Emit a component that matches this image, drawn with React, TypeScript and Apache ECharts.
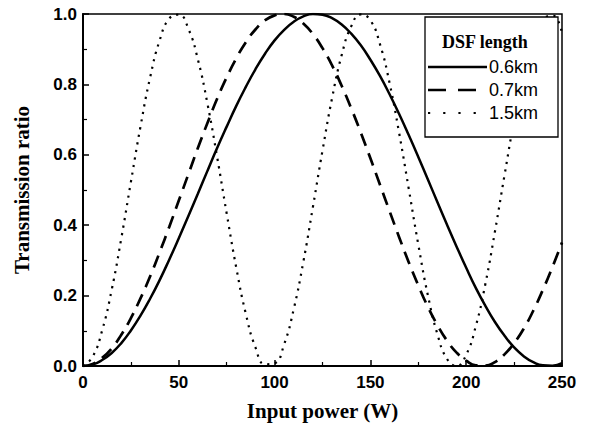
import React, { useEffect, useRef } from "react";
import * as echarts from "echarts";

const power = [
  0, 5, 10, 15, 20, 25, 30, 35, 40, 45, 50, 55, 60, 65, 70, 75, 80, 85, 90, 95,
  100, 105, 110, 115, 120, 125, 130, 135, 140, 145, 150, 155, 160, 165, 170, 175,
  180, 185, 190, 195, 200, 205, 210, 215, 220, 225, 230, 235, 240, 245, 250,
];

const len06 = [
  0, 0.004, 0.017, 0.037, 0.065, 0.101, 0.143, 0.191, 0.244, 0.302, 0.363, 0.426,
  0.49, 0.555, 0.619, 0.68, 0.739, 0.793, 0.843, 0.887, 0.925, 0.955, 0.978, 0.993,
  1.0, 0.998, 0.988, 0.97, 0.944, 0.911, 0.87, 0.824, 0.772, 0.716, 0.656, 0.594,
  0.53, 0.465, 0.401, 0.339, 0.279, 0.222, 0.171, 0.125, 0.086, 0.053, 0.028, 0.011,
  0.002, 0.001, 0.008,
];

const len07 = [
  0, 0.006, 0.023, 0.05, 0.089, 0.136, 0.192, 0.254, 0.323, 0.395, 0.47, 0.545,
  0.62, 0.691, 0.759, 0.82, 0.874, 0.92, 0.956, 0.982, 0.996, 1.0, 0.992, 0.973,
  0.943, 0.903, 0.854, 0.796, 0.732, 0.663, 0.59, 0.515, 0.44, 0.366, 0.295, 0.229,
  0.168, 0.116, 0.072, 0.038, 0.015, 0.002, 0.001, 0.011, 0.033, 0.065, 0.106,
  0.157, 0.216, 0.281, 0.351,
];

const len15 = [
  0, 0.026, 0.101, 0.217, 0.363, 0.523, 0.68, 0.819, 0.925, 0.987, 0.998, 0.958,
  0.87, 0.744, 0.594, 0.433, 0.279, 0.148, 0.053, 0.005, 0.008, 0.062, 0.162, 0.296,
  0.452, 0.612, 0.761, 0.883, 0.965, 0.999, 0.982, 0.914, 0.804, 0.662, 0.504, 0.345,
  0.201, 0.09, 0.02, 0.0, 0.032, 0.113, 0.233, 0.382, 0.542, 0.698, 0.832, 0.93,
  0.983, 0.996, 0.946,
];

const seriesNames = ["0.6km", "0.7km", "1.5km"];
const legendTitle = "DSF length";
const xTitle = "Input power (W)";
const yTitle = "Transmission ratio";

const pair = (ys: number[]) => power.map((p, i) => [p, ys[i]]);

export default function App() {
  const ref = useRef<HTMLDivElement>(null);
  useEffect(() => {
    if (!ref.current) return;
    const chart = echarts.init(ref.current, null, { renderer: "svg" });
    const sans = "Liberation Sans";
    const serif = "Liberation Serif";
    const axisCommon = {
      axisLine: { show: true, onZero: false, lineStyle: { color: "#000", width: 2 } },
      axisTick: { show: true, inside: true, length: 6, lineStyle: { color: "#000", width: 1.5 } },
      minorTick: { show: true, splitNumber: 2, length: 4, lineStyle: { color: "#000", width: 1.2 } },
      splitLine: { show: false },
      nameTextStyle: { fontFamily: serif, fontWeight: "bold", fontSize: 21, color: "#000" },
    };
    const lineStyles = [
      { width: 2.5, dash: null as number[] | null },
      { width: 2.7, dash: [13, 8] },
      { width: 2.2, dash: [2.2, 5.5] },
    ];
    const legendDash = [null, [18, 12], [2.2, 13]];
    const rowY = [67, 90, 113];
    const legendItems: any[] = [];
    seriesNames.forEach((n, i) => {
      legendItems.push({
        type: "line",
        z: 20,
        shape: { x1: 428, y1: rowY[i], x2: 487, y2: rowY[i] },
        style: {
          stroke: "#000",
          lineWidth: lineStyles[i].width,
          lineDash: legendDash[i] || undefined,
        },
      });
      legendItems.push({
        type: "text",
        z: 20,
        x: 489,
        y: rowY[i],
        style: {
          text: n,
          fontFamily: sans,
          fontSize: 18,
          fill: "#000",
          verticalAlign: "middle",
        },
      });
    });
    chart.setOption({
      animation: false,
      backgroundColor: "#fff",
      grid: {
        left: 83,
        right: 28,
        top: 14,
        bottom: 60,
        show: true,
        borderColor: "#000",
        borderWidth: 1.5,
      },
      xAxis: {
        type: "value",
        min: 0,
        max: 250,
        interval: 50,
        name: xTitle,
        nameLocation: "middle",
        nameGap: 34,
        ...axisCommon,
        axisLabel: { fontFamily: sans, fontWeight: "bold", fontSize: 17, color: "#000", margin: 8 },
      },
      yAxis: {
        type: "value",
        min: 0,
        max: 1,
        interval: 0.2,
        name: yTitle,
        nameLocation: "middle",
        nameRotate: 90,
        nameGap: 51,
        ...axisCommon,
        axisLabel: {
          fontFamily: sans,
          fontWeight: "bold",
          fontSize: 17,
          color: "#000",
          margin: 6,
          formatter: (v: number) => v.toFixed(1),
        },
      },
      graphic: [
        {
          type: "rect",
          z: 10,
          shape: { x: 425, y: 17, width: 133, height: 120 },
          style: { fill: "#fff", stroke: "#000", lineWidth: 1.3 },
        },
        {
          type: "text",
          z: 20,
          x: 442,
          y: 42,
          style: {
            text: legendTitle,
            fontFamily: serif,
            fontWeight: "bold",
            fontSize: 18,
            fill: "#000",
            verticalAlign: "middle",
          },
        },
        ...legendItems,
      ],
      series: seriesNames.map((n, i) => ({
        name: n,
        type: "line",
        data: pair([len06, len07, len15][i]),
        smooth: true,
        symbol: "none",
        clip: true,
        lineStyle: {
          color: "#000",
          width: lineStyles[i].width,
          type: lineStyles[i].dash || "solid",
        },
        itemStyle: { color: "#000" },
      })),
    });
    return () => chart.dispose();
  }, []);
  return <div ref={ref} style={{ width: 590, height: 426, position: "absolute", left: 0, top: 0 }} />;
}
